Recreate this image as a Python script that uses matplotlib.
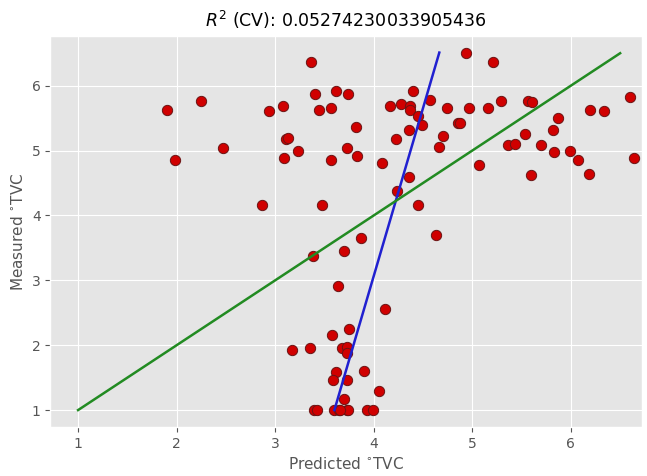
import numpy as np
import matplotlib.pyplot as plt

plt.style.use('ggplot')

# predicted values (cross-validation)
y_cv = np.array([1.90, 2.25, 2.47, 1.98, 2.87, 3.36, 2.94, 3.08, 3.40, 3.62,
                 3.74, 3.44, 3.57, 3.11, 3.13, 3.23, 3.09, 3.57, 3.73, 3.48,
                 4.94, 5.21, 4.40, 4.57, 4.16, 4.28, 4.37, 4.37, 4.74, 4.97,
                 5.16, 5.29, 5.57, 5.61, 6.19, 6.34, 6.60, 4.45, 4.49, 3.82,
                 4.36, 4.23, 4.70, 4.85, 4.88, 5.87, 5.82, 5.53, 5.36, 5.43,
                 5.70, 5.83, 5.99, 6.07, 6.18, 6.64, 5.60, 5.07, 4.66, 3.83,
                 4.08, 4.36, 4.24, 4.45,
                 3.38, 3.70, 3.64, 3.58, 3.17, 3.35, 3.68, 3.73, 3.75, 3.62,
                 3.59, 3.70, 3.39, 3.42, 3.60, 3.65, 3.73, 3.73, 3.73, 4.63,
                 3.87, 4.11, 3.74, 3.90, 4.05, 3.66, 3.93, 3.99])

# measured values
y = np.array([5.62, 5.76, 5.04, 4.85, 4.16, 6.36, 5.61, 5.69, 5.87, 5.92,
              5.87, 5.63, 5.65, 5.18, 5.20, 4.99, 4.88, 4.85, 5.04, 4.16,
              6.51, 6.36, 5.92, 5.78, 5.68, 5.71, 5.69, 5.62, 5.66, 5.65,
              5.65, 5.76, 5.76, 5.75, 5.62, 5.61, 5.83, 5.53, 5.39, 5.37,
              5.31, 5.18, 5.22, 5.43, 5.43, 5.50, 5.31, 5.26, 5.08, 5.10,
              5.09, 4.98, 4.99, 4.85, 4.64, 4.88, 4.62, 4.78, 5.05, 4.91,
              4.81, 4.59, 4.38, 4.16,
              3.38, 3.45, 2.92, 2.15, 1.92, 1.95, 1.95, 1.98, 2.25, 1.59,
              1.46, 1.17, 1.00, 1.00, 1.00, 1.00, 1.00, 1.46, 1.88, 3.70,
              3.65, 2.56, 1.00, 1.61, 1.29, 1.00, 1.00, 1.00])

r2_cv = '0.05274230033905436'

# fit predicted against measured
z = np.polyfit(y, y_cv, 1)
y_line = np.array([y.min(), y.max()])

fig, ax = plt.subplots(figsize=(6.47, 4.76), dpi=100)
fig.subplots_adjust(left=0.078, right=0.992, top=0.925, bottom=0.103)

ax.scatter(y_cv, y, c='#d00000', edgecolors='#6a1414', s=55, linewidths=0.7, zorder=3)
ax.plot(np.polyval(z, y_line), y_line, c='#2020d0', linewidth=1.8, zorder=4)
ax.plot([1, 6.5], [1, 6.5], color='#228b22', linewidth=1.8, zorder=4)

ax.set_xlim(0.72, 6.72)
ax.set_ylim(0.74, 6.77)
ax.set_xticks([1, 2, 3, 4, 5, 6])
ax.set_yticks([1, 2, 3, 4, 5, 6])

ax.set_xlabel('Predicted $^{\\circ}$TVC', color='#555555', fontsize=11)
ax.set_ylabel('Measured $^{\\circ}$TVC', color='#555555', fontsize=11)
ax.set_title('$R^{2}$ (CV): ' + r2_cv, fontsize=12.5, color='black')

plt.savefig('out.png')
